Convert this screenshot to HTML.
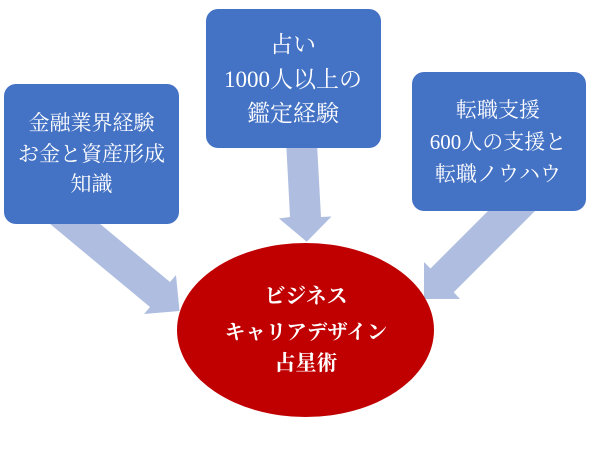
<!DOCTYPE html>
<html>
<head>
<meta charset="utf-8">
<style>
  html, body { margin: 0; padding: 0; background: #ffffff; }
  body { width: 611px; height: 449px; overflow: hidden; }
  svg { display: block; }
  .t { font-family: "Liberation Serif", "Noto Serif CJK SC", "Noto Serif CJK JP", serif; fill: #ffffff; text-anchor: middle; }
  .b { font-weight: 700; }
</style>
</head>
<body>
<svg width="611" height="449" viewBox="0 0 611 449" xmlns="http://www.w3.org/2000/svg">
  <rect x="0" y="0" width="611" height="449" fill="#ffffff"/>

  <!-- arrows -->
  <polygon fill="#AFBEE0" points="90.8,216.3 170,282 176,275 179.5,311 144,314 150,307 40.8,216.3"/>
  <polygon fill="#AFBEE0" points="286,140 316.8,140 321,217 331.5,216.5 306.7,241.7 279,218.5 290,217"/>
  <polygon fill="#AFBEE0" points="499,200 430.5,268.5 424,262 424,299 460,299 453.75,292.25 546,200"/>

  <!-- boxes -->
  <rect x="4" y="84" width="175" height="140" rx="12" ry="12" fill="#4472C4"/>
  <rect x="206" y="9" width="175" height="139" rx="12" ry="12" fill="#4472C4"/>
  <rect x="412" y="72" width="174" height="139" rx="12" ry="12" fill="#4472C4"/>

  <!-- box 1 text -->
  <text class="t" x="91.5" y="130" font-size="21">金融業界経験</text>
  <text class="t" x="91.5" y="161" font-size="21">お金と資産形成</text>
  <text class="t" x="91.5" y="191" font-size="21">知識</text>

  <!-- box 2 text -->
  <text class="t" x="293" y="52" font-size="23">占い</text>
  <text class="t" x="293" y="87" font-size="23">1000人以上の</text>
  <text class="t" x="293" y="121" font-size="23">鑑定経験</text>

  <!-- box 3 text -->
  <text class="t" x="498" y="117" font-size="21">転職支援</text>
  <text class="t" x="498" y="149" font-size="21">600人の支援と</text>
  <text class="t" x="498" y="181" font-size="21">転職ノウハウ</text>

  <!-- ellipse -->
  <ellipse cx="305.5" cy="330" rx="128.5" ry="87" fill="#C00000"/>
  <text class="t b" x="306" y="303" font-size="21">ビジネス</text>
  <text class="t b" x="306" y="339" font-size="20.5">キャリアデザイン</text>
  <text class="t b" x="306" y="370" font-size="21">占星術</text>
</svg>
</body>
</html>
